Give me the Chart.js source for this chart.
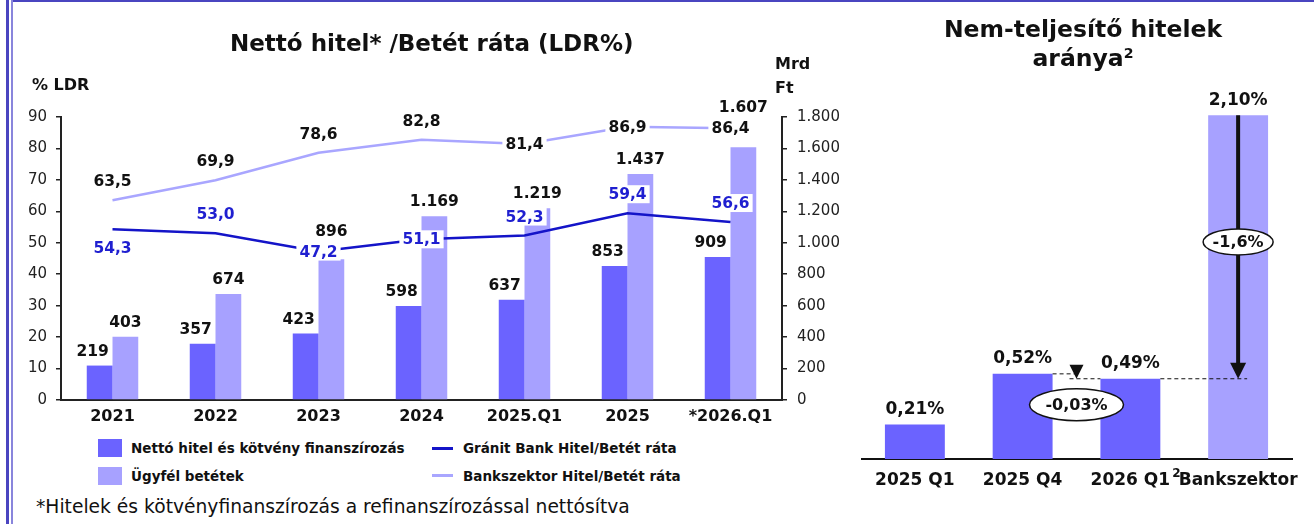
<!DOCTYPE html>
<html>
<head>
<meta charset="utf-8">
<script src="https://cdn.jsdelivr.net/npm/chart.js@4.4.1/dist/chart.umd.min.js"></script>
<style>
  body { margin: 0; width: 1314px; height: 524px; position: relative; overflow: hidden; background: #fff;
         font-family: "DejaVu Sans", sans-serif; color: #111; }
  .abs { position: absolute; white-space: nowrap; }
  .b { font-weight: bold; }
  canvas { position: absolute; }
  sup { font-size: 60%; vertical-align: 0; position: relative; top: -0.6em; }
</style>
</head>
<body>
<div class="abs" style="left:11px;top:0;width:1303px;height:2px;background:#4a45c0"></div>
<div class="abs" style="left:6px;top:0;width:3px;height:524px;background:#4a45c0"></div>
<div class="abs" style="left:11px;top:0;width:2px;height:524px;background:#8985dc"></div>

<canvas id="ldr" width="860" height="430" style="left:0;top:0"></canvas>
<canvas id="npl" width="453" height="524" style="left:861px;top:0"></canvas>

<div class="abs b" style="left:230px;top:32px;font-size:23px;line-height:23px;width:400px;text-align:center">Nettó hitel* /Betét ráta (LDR%)</div>
<div class="abs b" style="left:32px;top:77px;font-size:16px;line-height:16px">% LDR</div>
<div class="abs b" style="left:775px;top:52px;font-size:16px;line-height:24px">Mrd<br>Ft</div>

<div class="abs" style="left:98px;top:439px;width:24px;height:18px;background:#6b63ff"></div>
<div class="abs b" style="left:131px;top:441px;font-size:13.5px;line-height:14px">Nettó hitel és kötvény finanszírozás</div>
<div class="abs" style="left:98px;top:467px;width:24px;height:18px;background:#a7a1ff"></div>
<div class="abs b" style="left:131px;top:469px;font-size:13.5px;line-height:14px">Ügyfél betétek</div>
<div class="abs" style="left:432px;top:447px;width:21px;height:3px;background:#1414c8"></div>
<div class="abs b" style="left:463px;top:441px;font-size:13.5px;line-height:14px">Gránit Bank Hitel/Betét ráta</div>
<div class="abs" style="left:432px;top:474px;width:21px;height:3px;background:#a9a6ff"></div>
<div class="abs b" style="left:463px;top:469px;font-size:13.5px;line-height:14px">Bankszektor Hitel/Betét ráta</div>

<div class="abs" style="left:36px;top:497px;font-size:18.7px;line-height:20px">*Hitelek és kötvényfinanszírozás a refinanszírozással nettósítva</div>

<div class="abs b" style="left:933px;top:15px;width:300px;text-align:center;font-size:23.5px;line-height:29px">Nem-teljesítő hitelek<br>aránya<sup>2</sup></div>

<script>
// left chart: LDR
const periods = ['2021', '2022', '2023', '2024', '2025.Q1', '2025', '*2026.Q1'];
const netLoans = [219, 357, 423, 598, 637, 853, 909];
const deposits = [403, 674, 896, 1169, 1219, 1437, 1607];
const granitLdr = [54.3, 53.0, 47.2, 51.1, 52.3, 59.4, 56.6];
const sectorLdr = [63.5, 69.9, 78.6, 82.8, 81.4, 86.9, 86.4];

// right chart: NPL ratio
const nplLabels = ['2025 Q1', '2025 Q4', '2026 Q1', 'Bankszektor'];
const nplValues = [0.21, 0.52, 0.49, 2.10];

const FONT = '"DejaVu Sans", sans-serif';
const DARK = '#6b63ff';
const LIGHT = '#a7a1ff';

function thousands(v) {
  return v >= 1000 ? Math.floor(v / 1000) + '.' + String(v % 1000).padStart(3, '0') : String(v);
}
function comma(v, d) {
  return v.toFixed(d).replace('.', ',');
}

const valueLabels = {
  id: 'valueLabels',
  afterDatasetsDraw(chart) {
    const ctx = chart.ctx;
    ctx.save();
    ctx.font = 'bold 15.5px ' + FONT;
    ctx.textAlign = 'center';
    ctx.textBaseline = 'middle';
    chart.data.datasets.forEach((ds, i) => {
      const meta = chart.getDatasetMeta(i);
      meta.data.forEach((el, j) => {
        const txt = ds.fmt(ds.data[j]);
        const dy = Array.isArray(ds.labelDy) ? ds.labelDy[j] : ds.labelDy;
        const x = el.x + (ds.labelDx || 0);
        const y = el.y + dy;
        if (ds.labelBg && ds.labelBg[j]) {
          const w = ctx.measureText(txt).width;
          ctx.fillStyle = '#fff';
          ctx.fillRect(x - w / 2 - 3, y - 9, w + 6, 18);
        }
        ctx.fillStyle = ds.labelColor;
        ctx.fillText(txt, x, y + 1);
      });
    });
    ctx.restore();
  }
};

new Chart(document.getElementById('ldr'), {
  type: 'bar',
  data: {
    labels: periods,
    datasets: [
      {
        type: 'line', label: 'Gránit Bank Hitel/Betét ráta', data: granitLdr, yAxisID: 'y',
        borderColor: '#1414c8', borderWidth: 2.5, pointRadius: 0, tension: 0, order: 0,
        fmt: v => comma(v, 1), labelColor: '#1f1fd0',
        labelDy: [19, -19, 0, 0, -19, -19, -19], labelBg: [1, 1, 1, 1, 1, 1, 1]
      },
      {
        type: 'line', label: 'Bankszektor Hitel/Betét ráta', data: sectorLdr, yAxisID: 'y',
        borderColor: '#a9a6ff', borderWidth: 2.5, pointRadius: 0, tension: 0, order: 0,
        fmt: v => comma(v, 1), labelColor: '#111',
        labelDy: [-19, -19, -19, -19, 0, 0, 0], labelBg: [0, 0, 0, 0, 1, 1, 1]
      },
      {
        label: 'Nettó hitel és kötvény finanszírozás', data: netLoans, yAxisID: 'y1',
        backgroundColor: DARK, order: 1,
        fmt: thousands, labelColor: '#111', labelDy: -15, labelDx: -7
      },
      {
        label: 'Ügyfél betétek', data: deposits, yAxisID: 'y1',
        backgroundColor: LIGHT, order: 1,
        fmt: thousands, labelColor: '#111', labelDy: [-15, -15, -28, -15, -15, -15, -40]
      }
    ]
  },
  options: {
    responsive: false,
    animation: false,
    layout: { padding: { top: 117, left: 0, right: 0, bottom: 0 } },
    datasets: { bar: { categoryPercentage: 0.5, barPercentage: 1.0 } },
    plugins: { legend: { display: false }, tooltip: { enabled: false } },
    scales: {
      x: {
        grid: { display: false, drawTicks: false },
        border: { display: true, color: '#222', width: 2 },
        ticks: { color: '#111', font: { family: FONT, size: 16, weight: 'bold' }, padding: 7, maxRotation: 0, autoSkip: false },
        afterFit: s => { s.height = 30; }
      },
      y: {
        position: 'left', min: 0, max: 90,
        grid: { drawOnChartArea: false, drawTicks: true, tickLength: 5, color: '#222', lineWidth: 1.5 },
        border: { display: true, color: '#222', width: 2 },
        ticks: { stepSize: 10, color: '#222', font: { family: FONT, size: 15 }, padding: 9 },
        afterFit: s => { s.width = 61; }
      },
      y1: {
        position: 'right', min: 0, max: 1800,
        grid: { drawOnChartArea: false, drawTicks: true, tickLength: 5, color: '#222', lineWidth: 1.5 },
        border: { display: true, color: '#222', width: 2 },
        ticks: { stepSize: 200, color: '#222', font: { family: FONT, size: 15 }, padding: 10, callback: v => thousands(v) },
        afterFit: s => { s.width = 78; }
      }
    }
  },
  plugins: [valueLabels]
});

const nplNotes = {
  id: 'nplNotes',
  afterDatasetsDraw(chart) {
    const ctx = chart.ctx;
    const xs = chart.scales.x, ys = chart.scales.y;
    const bars = chart.getDatasetMeta(0).data;
    ctx.save();
    // value labels
    ctx.font = 'bold 17px ' + FONT;
    ctx.textAlign = 'center';
    ctx.textBaseline = 'middle';
    ctx.fillStyle = '#111';
    bars.forEach((el, j) => ctx.fillText(comma(nplValues[j], 2) + '%', el.x, el.y - 15));

    const yQ4 = ys.getPixelForValue(nplValues[1]);
    const yQ1 = ys.getPixelForValue(nplValues[2]);
    const yBank = ys.getPixelForValue(nplValues[3]);
    const xBank = bars[3].x;
    const xMid = (bars[1].x + bars[2].x) / 2;

    // dashed guides
    ctx.strokeStyle = '#111';
    ctx.lineWidth = 1;
    ctx.setLineDash([4, 3]);
    ctx.beginPath();
    ctx.moveTo(bars[1].x + bars[1].width / 2, yQ4); ctx.lineTo(xMid, yQ4);
    ctx.moveTo(xMid - 7, yQ1); ctx.lineTo(bars[2].x - bars[2].width / 2, yQ1);
    ctx.moveTo(bars[2].x + bars[2].width / 2, yQ1); ctx.lineTo(xBank + 9, yQ1);
    ctx.stroke();
    ctx.setLineDash([]);

    // small triangle
    ctx.fillStyle = '#111';
    ctx.beginPath();
    ctx.moveTo(xMid - 7, yQ1 - 14); ctx.lineTo(xMid + 7, yQ1 - 14); ctx.lineTo(xMid, yQ1);
    ctx.closePath(); ctx.fill();

    // big arrow
    ctx.lineWidth = 4;
    ctx.beginPath();
    ctx.moveTo(xBank, yBank); ctx.lineTo(xBank, yQ1 - 12);
    ctx.stroke();
    ctx.beginPath();
    ctx.moveTo(xBank - 8, yQ1 - 16); ctx.lineTo(xBank + 8, yQ1 - 16); ctx.lineTo(xBank, yQ1);
    ctx.closePath(); ctx.fill();

    // ellipses
    const oval = (cx, cy, rx, ry, txt) => {
      ctx.beginPath();
      ctx.ellipse(cx, cy, rx, ry, 0, 0, Math.PI * 2);
      ctx.fillStyle = '#fff'; ctx.fill();
      ctx.lineWidth = 1.5; ctx.strokeStyle = '#111'; ctx.stroke();
      ctx.fillStyle = '#111';
      ctx.font = 'bold 16px ' + FONT;
      ctx.fillText(txt, cx, cy + 1);
    };
    oval(xBank, (yBank + yQ1) / 2 - 5, 35, 13, comma(nplValues[2] - nplValues[3], 1) + '%');
    oval(xMid, yQ1 + 26, 47, 16, comma(nplValues[2] - nplValues[1], 2) + '%');

    // footnote mark on third category label
    ctx.font = 'bold 17px ' + FONT;
    const w = ctx.measureText(nplLabels[2]).width;
    ctx.font = 'bold 12px ' + FONT;
    ctx.textAlign = 'left';
    ctx.fillText('2', xs.getPixelForValue(2) + w / 2 + 2, xs.bottom - xs.height + 15);
    ctx.restore();
  }
};

new Chart(document.getElementById('npl'), {
  type: 'bar',
  data: {
    labels: nplLabels,
    datasets: [{
      data: nplValues,
      backgroundColor: [DARK, DARK, DARK, LIGHT],
      categoryPercentage: 1.0, barPercentage: 0.556
    }]
  },
  options: {
    responsive: false,
    animation: false,
    layout: { padding: { top: 66, left: 0, right: 22, bottom: 0 } },
    plugins: { legend: { display: false }, tooltip: { enabled: false } },
    scales: {
      x: {
        grid: { display: false, drawTicks: false },
        border: { display: true, color: '#111', width: 2 },
        ticks: { color: '#111', font: { family: FONT, size: 17, weight: 'bold' }, padding: 11, maxRotation: 0, autoSkip: false },
        afterFit: s => { s.height = 65; }
      },
      y: { display: false, min: 0, max: 2.4 }
    }
  },
  plugins: [nplNotes]
});
</script>
</body>
</html>
